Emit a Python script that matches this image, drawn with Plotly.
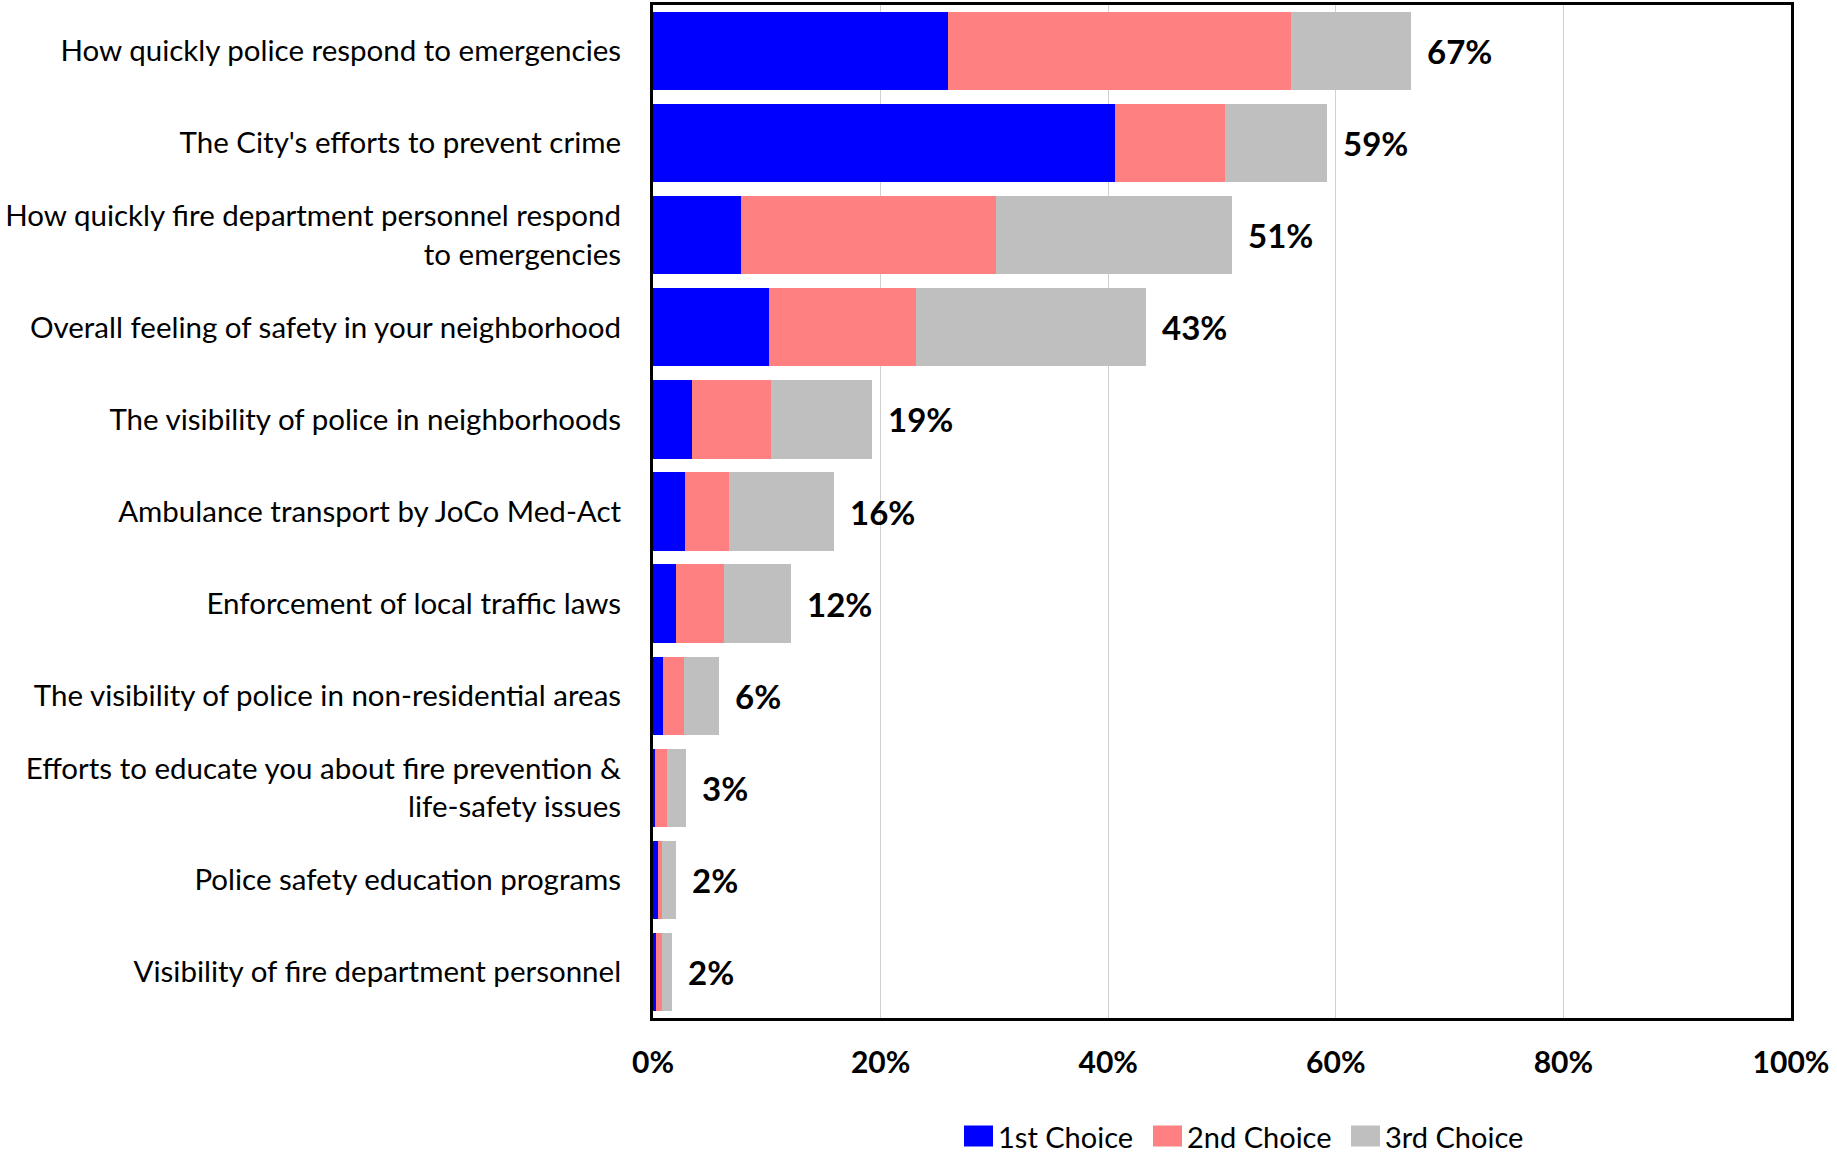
import plotly.graph_objects as go

# Survey items, listed top to bottom
categories = [
    "How quickly police respond to emergencies",
    "The City's efforts to prevent crime",
    "How quickly fire department personnel respond<br>to emergencies",
    "Overall feeling of safety in your neighborhood",
    "The visibility of police in neighborhoods",
    "Ambulance transport by JoCo Med-Act",
    "Enforcement of local traffic laws",
    "The visibility of police in non-residential areas",
    "Efforts to educate you about fire prevention &<br>life-safety issues",
    "Police safety education programs",
    "Visibility of fire department personnel",
]

# Share of respondents (%) choosing each item as 1st / 2nd / 3rd priority
first_choice = [25.9, 40.6, 7.7, 10.2, 3.4, 2.8, 2.0, 0.9, 0.2, 0.4, 0.3]
second_choice = [30.2, 9.7, 22.4, 12.9, 7.0, 3.9, 4.2, 1.8, 1.0, 0.4, 0.5]
third_choice = [10.5, 8.9, 20.8, 20.2, 8.8, 9.2, 5.9, 3.1, 1.7, 1.2, 0.9]

series_names = ["1st Choice", "2nd Choice", "3rd Choice"]
series_colors = ["#0000FF", "#FF8080", "#BFBFBF"]

x_ticks = [0, 20, 40, 60, 80, 100]
x_tick_labels = ["0%", "20%", "40%", "60%", "80%", "100%"]

FONT = "Lato, 'Open Sans', sans-serif"

W, H = 1837, 1154
M_L, M_R, M_T, M_B = 653, 46, 5, 136
PLOT_W = W - M_L - M_R
PLOT_H = H - M_T - M_B


def px_to_paper_x(px):
    return (px - M_L) / PLOT_W


def px_to_paper_y(py):
    return (H - M_B - py) / PLOT_H


fig = go.Figure()
for name, vals, color in zip(series_names, [first_choice, second_choice, third_choice], series_colors):
    fig.add_trace(go.Bar(
        y=categories, x=vals, name=name, orientation="h",
        marker=dict(color=color, line=dict(width=0)),
        hoverinfo="x+y", showlegend=False,
    ))

# Total labels to the right of each stacked bar
totals = [a + b + c for a, b, c in zip(first_choice, second_choice, third_choice)]
for cat, tot in zip(categories, totals):
    fig.add_annotation(
        x=tot, y=cat, xref="x", yref="y",
        text=f"<b>{round(tot)}%</b>", showarrow=False,
        xanchor="left", yanchor="middle", xshift=14,
        font=dict(family=FONT, size=33, color="#000000"),
    )

# Legend drawn as swatches + labels below the plot
legend_swatch_left = [964, 1153, 1351]
swatch_w, swatch_h = 29, 21
legend_cy = 1136
for name, color, left in zip(series_names, series_colors, legend_swatch_left):
    fig.add_shape(
        type="rect", xref="paper", yref="paper",
        x0=px_to_paper_x(left), x1=px_to_paper_x(left + swatch_w),
        y0=px_to_paper_y(legend_cy + swatch_h / 2), y1=px_to_paper_y(legend_cy - swatch_h / 2),
        fillcolor=color, line=dict(width=0), layer="above",
    )
    fig.add_annotation(
        x=px_to_paper_x(left + swatch_w + 3), y=px_to_paper_y(legend_cy),
        xref="paper", yref="paper", text=name, showarrow=False,
        xanchor="left", yanchor="middle",
        font=dict(family=FONT, size=29, color="#000000"),
    )

fig.update_layout(
    barmode="stack",
    bargap=0.15,
    width=W, height=H,
    margin=dict(l=M_L, r=M_R, t=M_T, b=M_B, autoexpand=False),
    paper_bgcolor="#FFFFFF",
    plot_bgcolor="#FFFFFF",
    font=dict(family=FONT, size=29.5, color="#000000"),
    showlegend=False,
    xaxis=dict(
        range=[0, 100],
        tickvals=x_ticks, ticktext=[f"<b>{t}</b>" for t in x_tick_labels],
        tickfont=dict(family=FONT, size=30, color="#000000"),
        showgrid=True, gridcolor="#D0D0D0", gridwidth=1,
        showline=True, linecolor="#000000", linewidth=3, mirror=True,
        ticks="", ticklabelstandoff=16,
        zeroline=False, fixedrange=True,
    ),
    yaxis=dict(
        categoryorder="array", categoryarray=categories,
        autorange="reversed",
        tickfont=dict(family=FONT, size=29.5, color="#000000"),
        showline=True, linecolor="#000000", linewidth=3, mirror=True,
        ticks="", ticklabelstandoff=23,
        showgrid=False, zeroline=False, fixedrange=True,
    ),
)

fig.write_html("out.html")
